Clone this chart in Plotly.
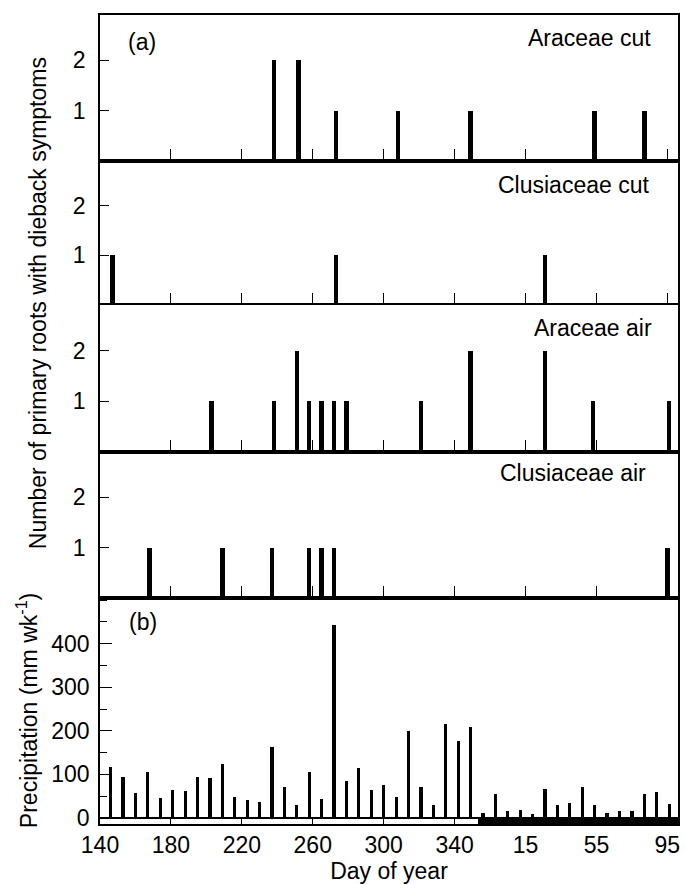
import plotly.graph_objects as go
from plotly.subplots import make_subplots

# ---------------- data ----------------
# Day of year is shown on a continuous scale; days after 365 belong to the next year
tick_days = [140, 180, 220, 260, 300, 340, 380, 420, 460]
tick_labels = ["140", "180", "220", "260", "300", "340", "15", "55", "95"]

araceae_cut_days = [238, 252, 273, 308, 349, 419, 447]
araceae_cut_counts = [2, 2, 1, 1, 1, 1, 1]

clusiaceae_cut_days = [147, 273, 391]
clusiaceae_cut_counts = [1, 1, 1]

araceae_air_days = [203, 238, 251, 258, 265, 272, 279, 321, 349, 391, 418, 461]
araceae_air_counts = [1, 1, 2, 1, 1, 1, 1, 1, 2, 2, 1, 1]

clusiaceae_air_days = [168, 209, 237, 258, 265, 272, 460]
clusiaceae_air_counts = [1, 1, 1, 1, 1, 1, 1]

precip_days = [146, 153, 160, 167, 174, 181, 188, 195, 202, 209, 216, 223,
               230, 237, 244, 251, 258, 265, 272, 279, 286, 293, 300, 307,
               314, 321, 328, 335, 342, 349, 356, 363, 370, 377, 384, 391,
               398, 405, 412, 419, 426, 433, 440, 447, 454, 461]
precip_mm = [118, 94, 57, 105, 46, 65, 62, 94, 92, 123, 48, 42,
             37, 163, 72, 29, 105, 44, 442, 84, 115, 63, 76, 48,
             199, 70, 29, 215, 177, 208, 11, 55, 17, 19, 8, 67,
             30, 35, 71, 29, 12, 15, 16, 55, 59, 32]

# period marked by the black band under the precipitation bars
band_period = [353, 466]

panel_names = ["Araceae cut", "Clusiaceae cut", "Araceae air", "Clusiaceae air"]
panel_days = [araceae_cut_days, clusiaceae_cut_days, araceae_air_days, clusiaceae_air_days]
panel_counts = [araceae_cut_counts, clusiaceae_cut_counts, araceae_air_counts, clusiaceae_air_counts]

# ---------------- figure ----------------
FONT = "Liberation Sans, Arial, Helvetica, sans-serif"
FS = 23
x_range = [140, 466]
p_range = [-14, 505]

fig = make_subplots(rows=5, cols=1, shared_xaxes=True, vertical_spacing=0,
                    row_heights=[146, 144, 147, 146, 226])

for i, (d, c) in enumerate(zip(panel_days, panel_counts)):
    fig.add_trace(go.Bar(x=d, y=c, width=2.5, marker=dict(color="black", line=dict(width=0)),
                         showlegend=False, hoverinfo="x+y"), row=i + 1, col=1)

fig.add_trace(go.Bar(x=[(band_period[0] + band_period[1]) / 2], y=[-p_range[0]],
                     base=[p_range[0]], width=[band_period[1] - band_period[0]],
                     marker=dict(color="black", line=dict(width=0)),
                     showlegend=False, hoverinfo="skip"), row=5, col=1)
fig.add_trace(go.Bar(x=precip_days, y=precip_mm, width=1.8,
                     marker=dict(color="black", line=dict(width=0)),
                     showlegend=False), row=5, col=1)

for r in range(1, 6):
    fig.update_xaxes(range=x_range, tickvals=tick_days, ticktext=tick_labels,
                     ticks="inside", ticklen=12 if r < 5 else 6, tickwidth=1.2, tickcolor="black",
                     showline=True, linecolor="black", linewidth=1.6, mirror=True,
                     showgrid=False, zeroline=False,
                     showticklabels=(r == 5),
                     tickfont=dict(family=FONT, size=FS, color="black"),
                     row=r, col=1)
    if r < 5:
        fig.update_yaxes(range=[0, 2.9], tickvals=[1, 2], ticks="inside", ticklen=9,
                         tickwidth=1.2, tickcolor="black",
                         showline=True, linecolor="black", linewidth=1.6, mirror=True,
                         showgrid=False, zeroline=False, ticklabelstandoff=8,
                         tickfont=dict(family=FONT, size=FS, color="black"),
                         row=r, col=1)
    else:
        fig.update_yaxes(range=p_range, tickvals=[0, 100, 200, 300, 400], ticks="inside",
                         ticklen=12, tickwidth=1.2, tickcolor="black",
                         minor=dict(tick0=0, dtick=50, ticks="inside", ticklen=7,
                                    tickwidth=1.2, tickcolor="black", showgrid=False),
                         showline=True, linecolor="black", linewidth=1.6, mirror=True,
                         showgrid=False, zeroline=True, zerolinecolor="black", zerolinewidth=1.5,
                         ticklabelstandoff=4,
                         tickfont=dict(family=FONT, size=FS, color="black"),
                         row=r, col=1)

fig.update_xaxes(title=dict(text="Day of year", font=dict(family=FONT, size=FS, color="black"),
                            standoff=0), row=5, col=1)

ann = []
label_y = [0.9716, 0.790, 0.613, 0.434]
label_x = [0.957, 0.953, 0.959, 0.948]
for name, yy, xx in zip(panel_names, label_y, label_x):
    ann.append(dict(text=name, x=xx, y=yy, xref="paper", yref="paper", xanchor="right",
                    yanchor="middle", showarrow=False,
                    font=dict(family=FONT, size=FS, color="black")))
ann.append(dict(text="(a)", x=0.045, y=0.9666, xref="paper", yref="paper", xanchor="left",
                yanchor="middle", showarrow=False, font=dict(family=FONT, size=FS, color="black")))
ann.append(dict(text="(b)", x=0.047, y=0.2497, xref="paper", yref="paper", xanchor="left",
                yanchor="middle", showarrow=False, font=dict(family=FONT, size=FS, color="black")))
ann.append(dict(text="Number of primary roots with dieback symptoms", x=-0.107, y=0.644,
                xref="paper", yref="paper", xanchor="center", yanchor="middle", textangle=-90,
                showarrow=False, font=dict(family=FONT, size=FS, color="black")))
ann.append(dict(text="Precipitation (mm wk<sup>-1</sup>)", x=-0.126, y=0.1397,
                xref="paper", yref="paper", xanchor="center", yanchor="middle", textangle=-90,
                showarrow=False, font=dict(family=FONT, size=FS, color="black")))

fig.update_layout(width=685, height=884, margin=dict(l=100, r=5, t=15, b=60),
                  paper_bgcolor="white", plot_bgcolor="white", annotations=ann,
                  bargap=0, barmode="overlay")

fig.write_html("out.html", config={"displayModeBar": False},
               post_script="document.body.style.margin='0px';document.body.style.overflow='hidden';")
